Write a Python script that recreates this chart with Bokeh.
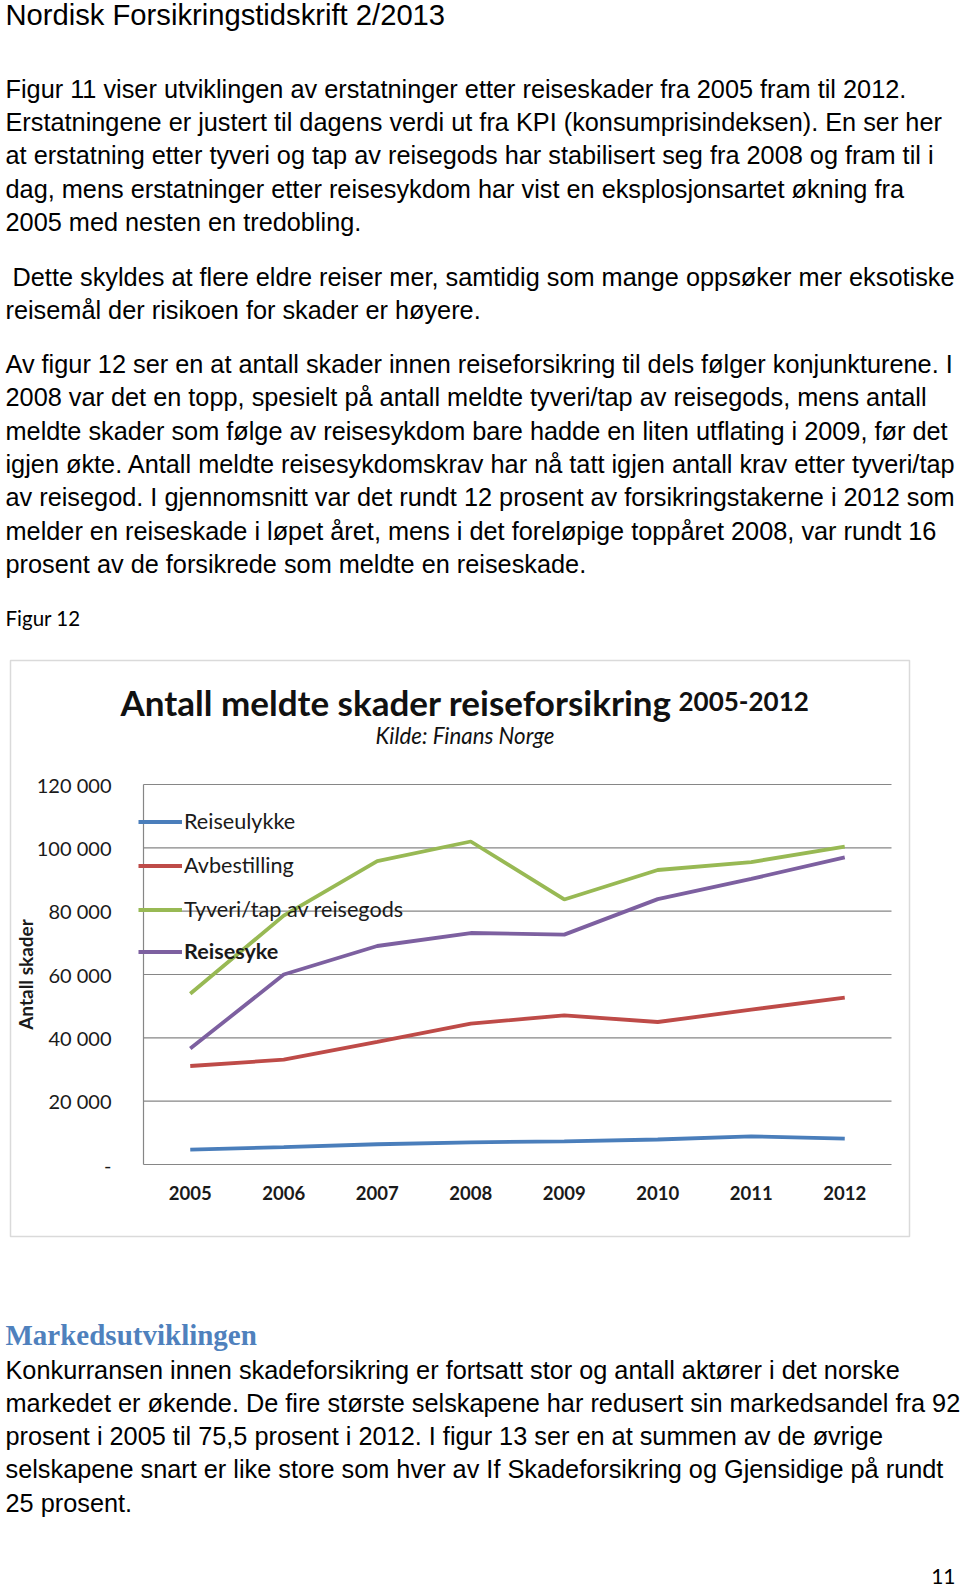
from bokeh.plotting import figure
from bokeh.models import (Range1d, FixedTicker, Label, Legend, LegendItem,
                          BoxAnnotation, LinearAxis)
from bokeh.embed import file_html
from bokeh.resources import INLINE

# ---------------- data ----------------
years = ["2005", "2006", "2007", "2008", "2009", "2010", "2011", "2012"]
reiseulykke = [4700, 5500, 6400, 7000, 7300, 7900, 8900, 8200]
avbestilling = [31100, 33100, 38700, 44500, 47100, 45000, 48900, 52700]
tyveri = [53900, 78600, 95800, 102000, 83700, 93000, 95500, 100400]
reisesyke = [36600, 60000, 69000, 73100, 72600, 83800, 90200, 97000]
series_names = ["Reiseulykke", "Avbestilling", "Tyveri/tap av reisegods", "Reisesyke"]
y_ticks = [0, 20000, 40000, 60000, 80000, 100000, 120000]
y_tick_labels = ["-", "20 000", "40 000", "60 000", "80 000", "100 000", "120 000"]

header = "Nordisk Forsikringstidskrift 2/2013"
para1 = ["Figur 11 viser utviklingen av erstatninger etter reiseskader fra 2005 fram til 2012.",
         "Erstatningene er justert til dagens verdi ut fra KPI (konsumprisindeksen).  En ser her",
         "at erstatning etter tyveri og tap av reisegods har stabilisert seg fra 2008 og fram til i",
         "dag, mens erstatninger etter reisesykdom har vist en eksplosjonsartet økning fra",
         "2005 med nesten en tredobling."]
para2 = ["\u00a0Dette skyldes at flere eldre reiser mer, samtidig som mange oppsøker mer eksotiske",
         "reisemål der risikoen for skader er høyere."]
para3 = ["Av figur 12 ser en at antall skader innen reiseforsikring til dels følger konjunkturene. I",
         "2008 var det en topp, spesielt på antall meldte tyveri/tap av reisegods, mens antall",
         "meldte skader som følge av reisesykdom bare hadde en liten utflating i 2009, før det",
         "igjen økte. Antall meldte reisesykdomskrav har nå tatt igjen antall krav etter tyveri/tap",
         "av reisegod. I gjennomsnitt var det rundt 12 prosent av forsikringstakerne i 2012 som",
         "melder en reiseskade i løpet året, mens i det foreløpige toppåret 2008, var rundt 16",
         "prosent av de forsikrede som meldte en reiseskade."]
fig_caption = "Figur 12"
section_title = "Markedsutviklingen"
para4 = ["Konkurransen innen skadeforsikring er fortsatt stor og antall aktører i det norske",
         "markedet er økende. De fire største selskapene har redusert sin markedsandel fra 92",
         "prosent i 2005 til 75,5 prosent i 2012. I figur 13 ser en at summen av de øvrige",
         "selskapene snart er like store som hver av If Skadeforsikring og Gjensidige på rundt",
         "25 prosent."]
page_number = "11"
chart_title = "Antall meldte skader reiseforsikring"
chart_title_years = "2005-2012"
chart_subtitle = "Kilde: Finans Norge"
y_axis_title = "Antall skader"

year_nums = [int(y) for y in years]

# ---------------- layout (page pixel geometry) ----------------
W, H = 960, 1591
PLOT_L, PLOT_R, PLOT_T, PLOT_B = 143, 891, 784, 1164
x_lo, x_hi = year_nums[0] - 0.5, year_nums[-1] + 0.5
y_lo, y_hi = y_ticks[0], y_ticks[-1]
ppx = (PLOT_R - PLOT_L) / (x_hi - x_lo)
ppy = (PLOT_B - PLOT_T) / (y_hi - y_lo)
x_range = Range1d(x_lo - PLOT_L / ppx, x_hi + (W - PLOT_R) / ppx)
y_range = Range1d(y_lo - (H - PLOT_B) / ppy, y_hi + PLOT_T / ppy)
TEXT_DY = 8   # text is drawn this much below its anchor


def sx(px):  # page x -> screen x within the frame
    return px


def sy(py):  # page y -> screen y (from the bottom of the frame)
    return H - py


p = figure(x_range=x_range, y_range=y_range, width=W, height=H,
           x_axis_type=None, y_axis_type=None,
           output_backend="svg", toolbar_location=None,
           min_border=0, min_border_left=0, min_border_right=0,
           min_border_top=0, min_border_bottom=0)
p.outline_line_color = None
p.background_fill_color = "white"
p.border_fill_color = "white"

GRID = "#868686"
INK = "#1a1a1a"

# gridlines, one per tick value, across the category span
grid_vals = y_ticks[1:]
p.segment(x0=[x_lo] * len(grid_vals), x1=[x_hi] * len(grid_vals),
          y0=grid_vals, y1=grid_vals, line_color=GRID, line_width=1.2)

yaxis = LinearAxis(fixed_location=x_lo, bounds=(y_lo, y_hi),
                   ticker=FixedTicker(ticks=y_ticks),
                   major_label_overrides={t: l for t, l in zip(y_ticks, y_tick_labels)})
yaxis.major_tick_line_color = None
yaxis.minor_tick_line_color = None
yaxis.axis_line_color = GRID
yaxis.axis_line_width = 1.2
yaxis.major_label_text_font = "Lato"
yaxis.major_label_text_font_size = "20px"
yaxis.major_label_text_color = INK
yaxis.major_label_standoff = 26
yaxis.axis_label = y_axis_title
yaxis.axis_label_text_font = "Lato"
yaxis.axis_label_text_font_style = "bold"
yaxis.axis_label_text_font_size = "19px"
yaxis.axis_label_text_color = INK
yaxis.axis_label_standoff = -3
p.add_layout(yaxis, "left")

xaxis = LinearAxis(fixed_location=y_lo, bounds=(x_lo, x_hi),
                   ticker=FixedTicker(ticks=year_nums),
                   major_label_overrides={n: s for n, s in zip(year_nums, years)})
xaxis.major_tick_line_color = None
xaxis.minor_tick_line_color = None
xaxis.axis_line_color = GRID
xaxis.axis_line_width = 1.2
xaxis.major_label_text_font = "Lato"
xaxis.major_label_text_font_style = "bold"
xaxis.major_label_text_font_size = "18.5px"
xaxis.major_label_text_color = INK
xaxis.major_label_standoff = 15
p.add_layout(xaxis, "below")

colors = ["#4A7EBB", "#BE4B48", "#98B954", "#7D60A0"]
renderers = []
for vals, c in zip([reiseulykke, avbestilling, tyveri, reisesyke], colors):
    r = p.line(year_nums, vals, line_color=c, line_width=3.8)
    renderers.append(r)

legend_style = dict(orientation="vertical", border_line_color=None, background_fill_alpha=0,
                    padding=0, margin=0, spacing=18, glyph_width=44, glyph_height=25,
                    label_height=25, label_standoff=2, label_text_font="Lato",
                    label_text_font_size="21.6px", label_text_color=INK)
legend1 = Legend(items=[LegendItem(label=n, renderers=[r])
                        for n, r in zip(series_names[:3], renderers[:3])],
                 location=(sx(138), sy(922)), **legend_style)
legend2 = Legend(items=[LegendItem(label=series_names[3], renderers=[renderers[3]])],
                 location=(sx(138), sy(964)), label_text_font_style="bold", **legend_style)
p.add_layout(legend1, "center")
p.add_layout(legend2, "center")

# chart border
p.add_layout(BoxAnnotation(left=sx(10), right=sx(909), top=sy(660), bottom=sy(1236),
                           left_units="screen", right_units="screen",
                           top_units="screen", bottom_units="screen",
                           fill_alpha=0, line_color=GRID, line_width=1.5))


def add_text(text, px, py, font="Liberation Sans", size="25.3px", style="normal",
             color="black", align="left"):
    p.add_layout(Label(x=sx(px), y=sy(py) + TEXT_DY, x_units="screen", y_units="screen",
                       text=text, text_font=font, text_font_size=size,
                       text_font_style=style, text_color=color, text_align=align,
                       text_baseline="alphabetic"))


add_text(header, 5, 22.5, size="29.2px")
for i, line in enumerate(para1):
    add_text(line, 5, 96 + 33.4 * i)
for i, line in enumerate(para2):
    add_text(line, 5, 284 + 33.4 * i)
for i, line in enumerate(para3):
    add_text(line, 5, 371.3 + 33.4 * i)
add_text(fig_caption, 5, 625, font="Lato", size="20.5px")
add_text(section_title, 5, 1342, font="Liberation Serif", size="29px", style="bold",
         color="#4F81BD")
for i, line in enumerate(para4):
    add_text(line, 5, 1377 + 33.3 * i)
add_text(page_number, 955, 1584, font="Lato", size="21px", align="right")

add_text(chart_title, 120, 709, font="Lato", size="35px", style="bold", color="#111111")
add_text(chart_title_years, 678, 709, font="Lato", size="26px", style="bold", color="#111111")
add_text(chart_subtitle, 375, 743, font="Lato", size="22.3px", style="italic", color="#111111")

open("out.html", "w").write(file_html(p, INLINE))
